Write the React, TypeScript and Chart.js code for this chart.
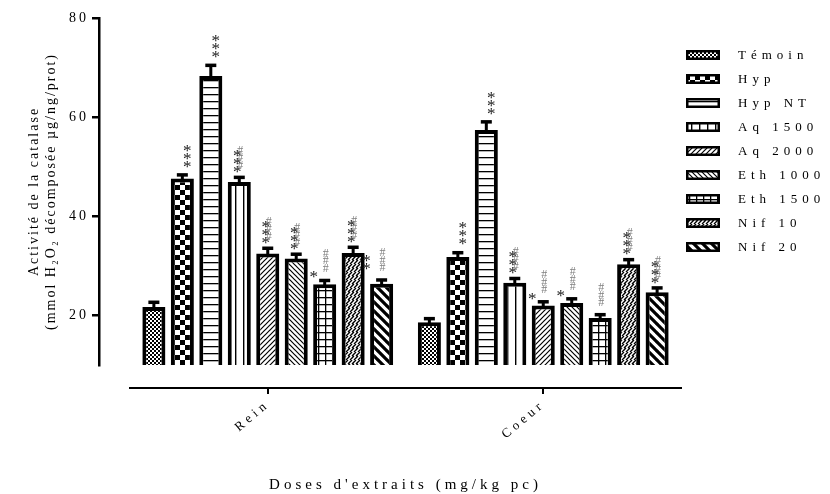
import { useEffect, useRef } from 'react';
import { Chart, registerables } from 'chart.js';

Chart.register(...registerables);

const SERIF = "'Liberation Serif', 'DejaVu Serif', 'Times New Roman', serif";

// ---------- data ----------
const categories = ['Rein', 'Coeur'];
const seriesNames = ['Témoin', 'Hyp', 'Hyp NT', 'Aq 1500', 'Aq 2000', 'Eth 1000', 'Eth 1500', 'Nif 10', 'Nif 20'];
const reinValues = [21.7, 47.6, 68.3, 46.9, 32.5, 31.5, 26.3, 32.6, 26.4];
const coeurValues = [18.6, 31.8, 57.4, 26.6, 22.0, 22.5, 19.5, 30.3, 24.7];
const reinErrors = [1.0, 0.8, 2.2, 1.0, 1.1, 0.9, 0.8, 1.2, 0.8];
const coeurErrors = [0.8, 0.9, 1.7, 0.9, 0.8, 0.9, 0.7, 1.0, 0.9];
const reinStars = ['', '***', '***', '***', '***', '***', '*', '***', '**'];
const reinHashes = ['', '', '', '###', '###', '###', '###', '###', '###'];
const coeurStars = ['', '***', '***', '***', '*', '*', '', '***', '***'];
const coeurHashes = ['', '', '', '###', '###', '###', '###', '###', '###'];
const yTicks = [20, 40, 60, 80];
const yTitle = ['Activité de la catalase', '(mmol H₂O₂ décomposée µg/ng/prot)'];
const xTitle = "Doses d'extraits (mg/kg pc)";

// ---------- styles ----------
const patternKinds = ['fineChecker', 'checker', 'hLines', 'vLines', 'diagUp', 'diagDown', 'grid', 'weave', 'thickDiagDown'];

function diag(g: any, s: number, lw: number, up: boolean) {
  g.lineWidth = lw;
  g.beginPath();
  for (const o of [-s, 0, s]) {
    if (up) { g.moveTo(o - 1, s + 1); g.lineTo(o + s + 1, -1); }
    else { g.moveTo(o - 1, -1); g.lineTo(o + s + 1, s + 1); }
  }
  g.stroke();
}

function createPattern(kind: string): any {
  const c = document.createElement('canvas');
  const g: any = c.getContext('2d');
  const setup = (W: number, H: number) => {
    c.width = W; c.height = H;
    g.fillStyle = '#fff'; g.fillRect(0, 0, W, H);
    g.fillStyle = '#000'; g.strokeStyle = '#000';
  };
  switch (kind) {
    case 'fineChecker': setup(4, 4); g.fillRect(0, 0, 2, 2); g.fillRect(2, 2, 2, 2); break;
    case 'checker': setup(10, 10); g.fillRect(0, 0, 5, 5); g.fillRect(5, 5, 5, 5); break;
    case 'hLines': setup(7, 7); g.fillRect(0, 3, 7, 1.3); break;
    case 'vLines': setup(8, 8); g.fillRect(3, 0, 1.4, 8); break;
    case 'diagUp': setup(5, 5); diag(g, 5, 1.2, true); break;
    case 'diagDown': setup(5, 5); diag(g, 5, 1.2, false); break;
    case 'grid': setup(7, 7); g.fillRect(0, 3, 7, 1.3); g.fillRect(3, 0, 1.3, 7); break;
    case 'weave': {
      setup(8, 8);
      g.lineWidth = 1.4;
      g.beginPath();
      for (let r = 0; r < 2; r++) {
        for (let cc = -1; cc < 3; cc++) {
          const x0 = cc * 4 + (r ? 2 : 0);
          g.moveTo(x0, r * 4 + 4); g.lineTo(x0 + 4, r * 4);
        }
      }
      g.stroke();
      break;
    }
    case 'thickDiagDown': setup(9, 9); diag(g, 9, 3.2, false); break;
    default: setup(4, 4);
  }
  return g.createPattern(c, 'repeat');
}

function patchSpacing(scale: any, method: string, spacing: string) {
  if (!scale || !scale[method] || scale[method].__patched) return;
  const orig = scale[method];
  const f: any = function (this: any, ...args: any[]) {
    const ctx = this.ctx;
    ctx.save();
    ctx.letterSpacing = spacing;
    orig.apply(this, args);
    ctx.restore();
  };
  f.__patched = true;
  scale[method] = f;
}

const spacingPlugin = {
  id: 'spacingPatch',
  afterLayout(chart: any) {
    patchSpacing(chart.scales.y, 'drawLabels', '3px');
    patchSpacing(chart.scales.y, 'drawTitle', '2px');
    patchSpacing(chart.scales.x, 'drawLabels', '4px');
    patchSpacing(chart.scales.x, 'drawTitle', '4px');
  },
};

const errorPlugin = {
  id: 'errorBarsAndMarks',
  afterDatasetsDraw(chart: any) {
    const ctx = chart.ctx;
    const yScale = chart.scales.y;
    ctx.save();
    chart.data.datasets.forEach((ds: any, di: number) => {
      const meta = chart.getDatasetMeta(di);
      meta.data.forEach((bar: any, ci: number) => {
        const err = (ci === 0 ? reinErrors : coeurErrors)[di];
        const v = ds.data[ci];
        const x = bar.x;
        const yTop = bar.y;
        const yErr = yScale.getPixelForValue(v + err);
        ctx.fillStyle = '#000';
        ctx.fillRect(x - 1.5, yErr, 3, yTop - yErr + 1);
        ctx.fillRect(x - 5.5, yErr - 1.5, 11, 3.5);
        const capTop = yErr - 1.5;
        const stars = (ci === 0 ? reinStars : coeurStars)[di];
        const hashes = (ci === 0 ? reinHashes : coeurHashes)[di];
        ctx.textAlign = 'center';
        ctx.textBaseline = 'middle';
        if (hashes) {
          ctx.font = `12px ${SERIF}`;
          ctx.fillStyle = '#808080';
          for (let k = 0; k < hashes.length; k++) {
            ctx.fillText(hashes[k], x + 1, capTop - 10 - k * 7.5);
          }
        }
        if (stars) {
          const n = stars.length;
          let sx: number, sy: number;
          if (!hashes) { sx = x + 5; sy = capTop - 9; }
          else if (n >= 3) { sx = x - 2; sy = capTop - 6; }
          else { sx = x - 11 - (n - 1) * 4; sy = capTop - 4 - (n - 1) * 8; }
          ctx.font = `17px ${SERIF}`;
          ctx.fillStyle = '#1a1a1a';
          for (let k = 0; k < n; k++) {
            ctx.fillText('*', sx, sy - k * 8 + 3);
          }
        }
      });
    });
    ctx.restore();
  },
};

const legendPlugin = {
  id: 'patternLegend',
  afterDraw(chart: any) {
    const ctx = chart.ctx;
    const area = chart.chartArea;
    const boxX = area.right + 5;
    const textX = boxX + 52;
    ctx.save();
    chart.data.datasets.forEach((ds: any, i: number) => {
      const cy = area.top + 37 + i * 24;
      ctx.fillStyle = ds.backgroundColor;
      ctx.fillRect(boxX, cy - 5, 34, 10);
      ctx.strokeStyle = '#000';
      ctx.lineWidth = 2.5;
      ctx.strokeRect(boxX + 1.25, cy - 3.75, 31.5, 7.5);
      ctx.fillStyle = '#000';
      ctx.font = `13px ${SERIF}`;
      ctx.letterSpacing = '5px';
      ctx.textAlign = 'left';
      ctx.textBaseline = 'middle';
      ctx.fillText(ds.label, textX, cy + 1);
    });
    ctx.restore();
  },
};

export default function App() {
  const ref = useRef<HTMLCanvasElement | null>(null);

  useEffect(() => {
    const canvas = ref.current;
    if (!canvas) return;
    const datasets = seriesNames.map((name, i) => ({
      label: name,
      data: [reinValues[i], coeurValues[i]],
      backgroundColor: createPattern(patternKinds[i]),
      borderColor: '#000',
      borderWidth: 4,
      borderSkipped: false,
      xAxisID: 'x',
      yAxisID: 'y',
      categoryPercentage: 0.93,
      barPercentage: 0.81,
    }));

    const chart = new Chart(canvas, {
      type: 'bar',
      data: { labels: categories, datasets },
      plugins: [spacingPlugin, errorPlugin, legendPlugin],
      options: {
        animation: false,
        responsive: false,
        devicePixelRatio: 1,
        layout: { padding: { top: 18, right: 149, bottom: 0, left: 0 } },
        plugins: {
          legend: { display: false },
          tooltip: { enabled: false },
        },
        scales: {
          x: {
            type: 'category',
            position: 'bottom',
            weight: 1,
            offset: true,
            grid: { display: true, drawOnChartArea: false, drawTicks: true, tickLength: 6, offset: false, color: '#000', lineWidth: 2 },
            border: { display: true, color: '#000', width: 2 },
            ticks: { color: '#000', font: { family: SERIF, size: 13 }, maxRotation: 40, minRotation: 40, padding: 3, autoSkip: false },
            title: { display: true, text: xTitle, color: '#000', font: { family: SERIF, size: 15 }, padding: { top: 0, bottom: 0 } },
            afterFit: (s: any) => { s.height = 106; },
          },
          xPad: {
            type: 'linear', axis: 'x', position: 'bottom', weight: 0, display: true,
            ticks: { display: false }, grid: { display: false }, border: { display: false },
            afterFit: (s: any) => { s.height = 23; },
          },
          y: {
            type: 'linear',
            position: 'left',
            weight: 1,
            min: 10,
            max: 80,
            afterBuildTicks: (s: any) => { s.ticks = yTicks.map((v) => ({ value: v })); },
            grid: { display: true, drawOnChartArea: false, drawTicks: true, tickLength: 7, color: '#000', lineWidth: 2.5 },
            border: { display: true, color: '#000', width: 2.5 },
            ticks: { color: '#000', font: { family: SERIF, size: 14 }, padding: 3 },
            title: { display: true, text: yTitle, color: '#000', font: { family: SERIF, size: 14, lineHeight: 1.2 }, padding: { top: 26, bottom: 0 } },
            afterFit: (s: any) => { s.width = 99; },
          },
          yPad: {
            type: 'linear', axis: 'y', position: 'left', weight: 0, display: true,
            ticks: { display: false }, grid: { display: false }, border: { display: false },
            afterFit: (s: any) => { s.width = 31; },
          },
        },
      } as any,
    } as any);
    return () => chart.destroy();
  }, []);

  return (
    <div style={{ position: 'fixed', left: 0, top: 0, width: 830, height: 494, background: '#fff' }}>
      <canvas ref={ref} width={830} height={494} style={{ display: 'block', width: 830, height: 494 }} />
    </div>
  );
}
